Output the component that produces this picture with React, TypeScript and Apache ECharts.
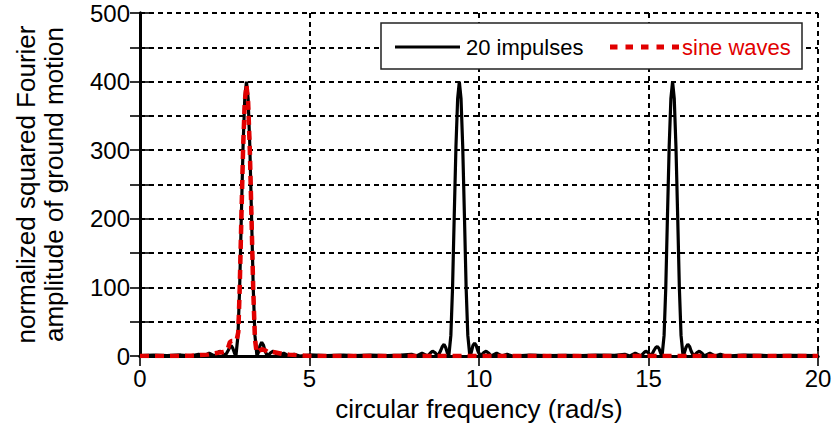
import React, { useEffect, useRef } from "react";
import * as echarts from "echarts";

// ---- data ----
const blackFreq = [
  0, 0.4, 0.8, 1.2, 1.5, 1.73, 1.88, 2.04, 2.2, 2.3, 2.35, 2.42, 2.51, 2.6, 2.64, 2.69, 2.74, 2.79, 2.83,
  2.89, 2.94, 2.99, 3.04, 3.09, 3.14, 3.19, 3.24, 3.29, 3.34, 3.39, 3.45, 3.49, 3.54, 3.59, 3.64, 3.69,
  3.76, 3.86, 3.93, 4.01, 4.08, 4.24, 4.39, 4.55, 4.71, 5.0, 5.5, 6.0, 6.3, 6.8, 7.3, 7.7,
  8.01, 8.16, 8.32, 8.48, 8.58, 8.63, 8.7, 8.79, 8.87, 8.92, 8.97, 9.02, 9.07, 9.11,
  9.17, 9.22, 9.27, 9.32, 9.37, 9.42, 9.47, 9.52, 9.57, 9.62, 9.67, 9.73, 9.77, 9.82, 9.87, 9.92, 9.97,
  10.04, 10.14, 10.21, 10.29, 10.36, 10.52, 10.67, 10.83, 10.99, 11.5, 12.0, 12.57, 13.0, 13.5, 14.0,
  14.3, 14.45, 14.61, 14.77, 14.87, 14.92, 14.99, 15.08, 15.16, 15.21, 15.26, 15.31, 15.36, 15.4,
  15.46, 15.51, 15.56, 15.61, 15.66, 15.71, 15.76, 15.81, 15.86, 15.91, 15.96, 16.02, 16.06, 16.11,
  16.16, 16.21, 16.26, 16.33, 16.43, 16.5, 16.58, 16.65, 16.81, 16.96, 17.12, 17.28, 17.8, 18.5, 19.2, 20,
];
const blackAmp = [
  0.5, 1.2, 0.6, 1.5, 0.4, 2.5, 0, 4, 0, 5, 7, 5, 0, 8, 12, 15, 11, 4, 0,
  30, 100, 205, 305, 375, 400, 375, 305, 205, 100, 30, 0, 5, 15, 20, 16, 7,
  0, 5, 7, 4, 0, 4, 0, 2.5, 0, 1.5, 0.5, 1.2, 0.5, 1.2, 0.6, 1.3,
  2.5, 0, 4, 0, 5, 7, 5, 0, 8, 14, 17, 12, 4, 0,
  30, 100, 205, 305, 375, 400, 375, 305, 205, 100, 30, 0, 5, 15, 19, 15, 7,
  0, 5, 7, 4, 0, 4, 0, 2.5, 0, 1.2, 0.6, 1.0, 0.5, 1.3, 0.8,
  2.5, 0, 4, 0, 5, 7, 5, 0, 8, 12, 14, 11, 4, 0,
  30, 100, 205, 305, 375, 400, 375, 305, 205, 100, 30, 0, 5, 13,
  17, 14, 7, 0, 5, 7, 4, 0, 4, 0, 2.5, 0, 1.3, 0.7, 1.0, 0.5,
];

const redFreq = [
  0, 1.0, 1.5, 2.0, 2.2, 2.35, 2.5, 2.6, 2.65, 2.7, 2.8, 2.85, 2.9, 2.94, 2.99, 3.04, 3.09, 3.14, 3.19,
  3.24, 3.29, 3.34, 3.39, 3.44, 3.5, 3.6, 3.7, 3.8, 3.9, 4.0, 4.2, 4.4, 4.7, 5.0, 20,
];
const redAmp = [
  0, 0, 0.5, 2, 4, 5, 6, 12, 20, 22, 22, 23, 35, 97, 200, 300, 370, 395, 370,
  300, 200, 97, 25, 5, 7, 10, 8, 5, 6, 5, 3, 2, 1, 0, 0,
];

const xTicks = [0, 5, 10, 15, 20];
const yLabelValues = [0, 100, 200, 300, 400, 500];

const seriesNames = ["20 impulses", "sine waves"];
const xTitle = "circular frequency (rad/s)";
const yTitle = "normalized squared Fourier\namplitude of ground motion";

const FONT = "'Liberation Sans', Arial, Helvetica, sans-serif";
const RED = "#e10000";

export default function App() {
  const ref = useRef<HTMLDivElement>(null);
  useEffect(() => {
    if (!ref.current) return;
    const chart = echarts.init(ref.current, null, { renderer: "svg" });
    const black = blackFreq.map((x, i) => [x, blackAmp[i]]);
    const red = redFreq.map((x, i) => [x, redAmp[i]]);
    const dashed = { show: true, lineStyle: { color: "#000", width: 2, type: [5, 4] as any } };
    const axisLine = { show: true, lineStyle: { color: "#000", width: 3 } };
    const tick = { show: true, inside: true, length: 10, lineStyle: { color: "#000", width: 1.6 } };
    const Z = 100;
    chart.setOption({
      animation: false,
      backgroundColor: "#fff",
      textStyle: { fontFamily: FONT },
      grid: { left: 140, right: 18, top: 13, bottom: 80 },
      xAxis: [
        {
          type: "value",
          min: xTicks[0],
          max: xTicks[xTicks.length - 1],
          interval: 5,
          position: "bottom",
          axisLine,
          axisTick: tick,
          splitLine: dashed,
          axisLabel: { color: "#000", fontSize: 24, margin: 10, fontFamily: FONT },
          name: xTitle,
          nameLocation: "middle",
          nameGap: 40,
          nameTextStyle: { color: "#000", fontSize: 26, fontFamily: FONT },
        },
        {
          type: "value",
          min: xTicks[0],
          max: xTicks[xTicks.length - 1],
          interval: 5,
          position: "top",
          axisLine,
          axisTick: tick,
          splitLine: { show: false },
          axisLabel: { show: false },
        },
      ],
      yAxis: [
        {
          type: "value",
          min: 0,
          max: 500,
          interval: 50,
          position: "left",
          axisLine,
          axisTick: tick,
          splitLine: dashed,
          axisLabel: {
            color: "#000",
            fontSize: 24,
            margin: 10,
            fontFamily: FONT,
            formatter: (v: number) => (yLabelValues.includes(v) ? String(v) : ""),
          },
          name: yTitle,
          nameLocation: "middle",
          nameRotate: 90,
          nameGap: 72,
          nameTextStyle: { color: "#000", fontSize: 26, lineHeight: 28, fontFamily: FONT, align: "center" },
        },
        {
          type: "value",
          min: 0,
          max: 500,
          interval: 50,
          position: "right",
          axisLine,
          axisTick: tick,
          splitLine: { show: false },
          axisLabel: { show: false },
        },
      ],
      series: [
        {
          name: seriesNames[0],
          type: "line",
          data: black,
          showSymbol: false,
          symbol: "none",
          lineStyle: { color: "#000", width: 3.2 },
          z: 3,
        },
        {
          name: seriesNames[1],
          type: "line",
          data: red,
          showSymbol: false,
          symbol: "none",
          lineStyle: { color: RED, width: 4.5, type: [9, 6] as any },
          z: 4,
        },
      ],
      graphic: [
        {
          type: "rect",
          z: Z,
          shape: { x: 381, y: 23, width: 421, height: 46 },
          style: { fill: "#fff", stroke: "#222", lineWidth: 1.5 },
        },
        {
          type: "line",
          z: Z + 1,
          shape: { x1: 395, y1: 47, x2: 460, y2: 47 },
          style: { stroke: "#000", lineWidth: 3.2 },
        },
        {
          type: "text",
          z: Z + 1,
          x: 466,
          y: 47,
          style: {
            text: seriesNames[0],
            fill: "#000",
            font: `22px ${FONT}`,
            verticalAlign: "middle",
            align: "left",
          },
        },
        {
          type: "line",
          z: Z + 1,
          shape: { x1: 610, y1: 47, x2: 679, y2: 47 },
          style: { stroke: RED, lineWidth: 5, lineDash: [7.5, 8] },
        },
        {
          type: "text",
          z: Z + 1,
          x: 682,
          y: 47,
          style: {
            text: seriesNames[1],
            fill: RED,
            font: `22px ${FONT}`,
            verticalAlign: "middle",
            align: "left",
          },
        },
      ],
    });
    return () => chart.dispose();
  }, []);
  return (
    <div
      ref={ref}
      style={{ position: "fixed", left: 0, top: 0, width: 836, height: 436, background: "#fff" }}
    />
  );
}
